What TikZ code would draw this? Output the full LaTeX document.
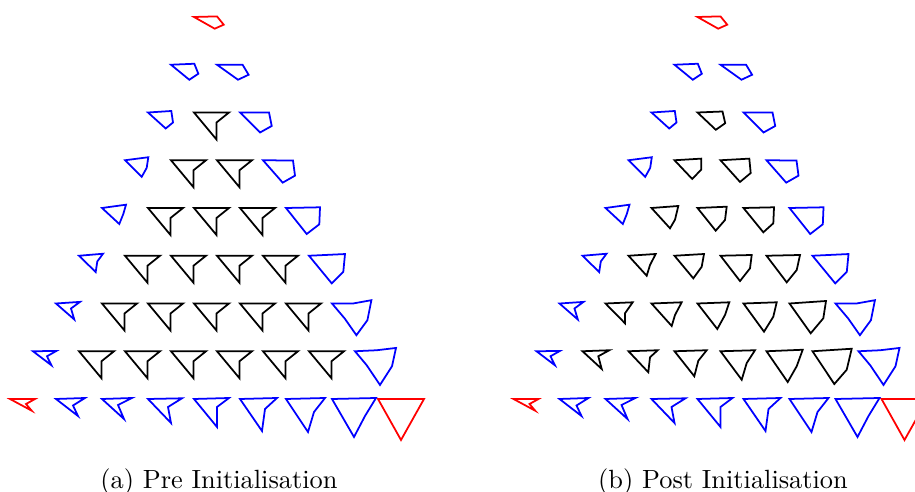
\documentclass[tikz,border=0pt]{standalone}
\usepackage{fontspec}
\newfontfamily\capfont{lmroman10-regular.otf}
\begin{document}
\begin{tikzpicture}[x=0.02cm,y=-0.02cm,
  elem/.style={line width=1pt,line join=miter},
  corner/.style={elem,draw=red},
  edge/.style={elem,draw=blue},
  inner/.style={elem,draw=black},
  caption/.style={anchor=base,font=\capfont\fontsize{15}{18}\selectfont,inner sep=0pt}]
% one element of the triangular mesh: base x, row, column, style, outline
\newcommand\elem[5]{\draw[#4,shift={(#1-23*#2+46*#3,17+47.75*#2)}] #5 -- cycle;}
% shorthand for the usual four-point outline
\newcommand\quadel[7]{\elem{#1}{#2}{#3}{#4}{(0,0) -- (#5) -- (#6) -- (#7)}}
% elements on the boundary of the mesh (identical in both panels)
\newcommand\meshboundary[1]{%
  \quadel{#1}{0}{0}{corner}{23,-0.6}{29.7,7.7}{20.7,11.7}
  \quadel{#1}{8}{0}{corner}{25,0}{16,5}{21.7,11.7}
  \quadel{#1}{8}{8}{corner}{46,0}{34.5,20.5}{23,41}
  % left side
  \quadel{#1}{1}{0}{edge}{23.3,-1}{27.3,9}{18.3,15}
  \quadel{#1}{2}{0}{edge}{23.3,-1.5}{25,10}{17.7,16}
  \quadel{#1}{3}{0}{edge}{23.3,-3}{21.7,7.6}{16.7,16.6}
  \quadel{#1}{4}{0}{edge}{24,-3.3}{21.3,6}{17.3,16}
  \quadel{#1}{5}{0}{edge}{24,-2}{18.3,5.7}{16.7,16.3}
  \quadel{#1}{6}{0}{edge}{24,-1.6}{15,5}{18.3,16}
  \quadel{#1}{7}{0}{edge}{23.4,-0.3}{14,5}{18.4,14}
  % right side
  \quadel{#1}{1}{1}{edge}{25.6,0}{31.6,10}{21,15}
  \quadel{#1}{2}{2}{edge}{29,0}{31.7,13.5}{20,20}
  \quadel{#1}{3}{3}{edge}{30,0.3}{32,15.4}{19.7,22.4}
  \quadel{#1}{4}{4}{edge}{34,-0.7}{33.3,16.3}{20.7,26}
  \quadel{#1}{5}{5}{edge}{36,-1.7}{34.3,16}{22.7,27.6}
  \elem{#1}{6}{6}{edge}{(0,0) -- (21,0) -- (39.4,-3.3) -- (35.4,16.7) -- (24.4,31.7) -- (12.7,15)}
  \elem{#1}{7}{7}{edge}{(0,0) -- (21.7,-1) -- (41,-3.3) -- (37,15) -- (25,33.7) -- (11.7,14)}
  % bottom side
  \quadel{#1}{8}{1}{edge}{29,-1}{17,6.5}{22,17}
  \quadel{#1}{8}{2}{edge}{30,-1}{16,6}{22,20}
  \quadel{#1}{8}{3}{edge}{34,-0.7}{20,8}{23,24}
  \quadel{#1}{8}{4}{edge}{35,-1}{23,8}{23,28}
  \quadel{#1}{8}{5}{edge}{37,-1}{25,10}{22,32}
  \quadel{#1}{8}{6}{edge}{39,-1}{28,13}{22,33}
  \quadel{#1}{8}{7}{edge}{44,-1}{33,17}{22,38}
}
\clip (0,0) rectangle (915,492);
% (a) before initialisation: all inner elements share one outline
\meshboundary{194}
\foreach \r in {2,...,7}{
  \pgfmathtruncatemacro\last{\r-1}
  \foreach \k in {1,...,\last}{
    \quadel{194}{\r}{\k}{inner}{35,0}{22.5,10}{22.5,27}
  }
}
\node[caption] (capA) at (219,488) {(a) Pre Initialisation};
% (b) after initialisation
\meshboundary{697.5}
\quadel{697.5}{2}{1}{inner}{25,-1}{27.7,10.7}{18.3,17.3}
\quadel{697.5}{3}{1}{inner}{26.7,-1.6}{26.7,9.4}{17.7,18.7}
\quadel{697.5}{3}{2}{inner}{28.8,-1.6}{30.2,12.8}{19.5,21.7}
\quadel{697.5}{4}{1}{inner}{26.8,-2}{23.5,11.7}{18.5,20.3}
\quadel{697.5}{4}{2}{inner}{29.2,-1.3}{27.5,12}{18.2,22.7}
\quadel{697.5}{4}{3}{inner}{30.5,-0.7}{29.8,15.3}{19.8,24.3}
\quadel{697.5}{5}{1}{inner}{27.2,-1.75}{21.5,9.3}{18.2,20}
\quadel{697.5}{5}{2}{inner}{29.5,-1.75}{27.2,11}{18.8,22.6}
\quadel{697.5}{5}{3}{inner}{31.2,-0.75}{29.5,12.6}{19.5,25.3}
\quadel{697.5}{5}{4}{inner}{33.5,-0.75}{30.2,14.3}{20.2,26.6}
\quadel{697.5}{6}{1}{inner}{27.2,-1.2}{19.5,9.8}{19.5,19.8}
\quadel{697.5}{6}{2}{inner}{30.2,-1.2}{23.5,11.5}{20.2,22.5}
\quadel{697.5}{6}{3}{inner}{31.8,-1.2}{27.5,11.5}{19.8,25.5}
\quadel{697.5}{6}{4}{inner}{33.2,-1.2}{29.8,13.2}{20.5,28.2}
\quadel{697.5}{6}{5}{inner}{36.5,-2.5}{33.8,14.8}{21.2,29.8}
\quadel{697.5}{7}{1}{inner}{26.8,-1}{15.8,5}{19.2,17.7}
\quadel{697.5}{7}{2}{inner}{29.2,-1}{21.5,6}{19.8,21}
\quadel{697.5}{7}{3}{inner}{32.2,-1}{23.8,9.5}{19.8,25}
\quadel{697.5}{7}{4}{inner}{34.5,-1}{26.2,11.8}{21.2,28.5}
\quadel{697.5}{7}{5}{inner}{36.2,-1.5}{30.2,15}{21.2,30.8}
\quadel{697.5}{7}{6}{inner}{39.2,-2.5}{34.2,18.5}{21.8,32.8}
\node[caption] (capB) at (723,488) {(b) Post Initialisation};
\end{tikzpicture}
\end{document}
